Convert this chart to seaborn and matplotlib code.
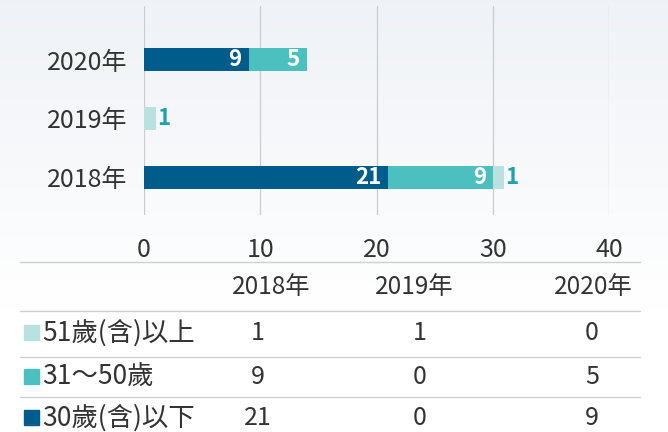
import numpy as np
import pandas as pd
import seaborn as sns
import matplotlib.pyplot as plt

years = ['2018年', '2019年', '2020年']
young = [21, 0, 9]      # 30歲(含)以下
middle = [9, 0, 5]      # 31～50歲
senior = [1, 1, 0]      # 51歲(含)以上
series_names = ['51歲(含)以上', '31～50歲', '30歲(含)以下']
x_ticks = [0, 10, 20, 30, 40]

c_young = '#005c8a'
c_middle = '#4cbfbf'
c_senior = '#b8e1e0'
c_text = '#333333'

sns.set_theme(style='white')
plt.rcParams['font.family'] = ['Noto Sans CJK TC', 'DejaVu Sans']

df = pd.DataFrame({'year': years, 'young': young, 'middle': middle, 'senior': senior})
df['c1'] = df['young']
df['c2'] = df['young'] + df['middle']
df['c3'] = df['c2'] + df['senior']
order = ['2020年', '2019年', '2018年']

W, H = 668, 432
fig = plt.figure(figsize=(W / 100, H / 100), dpi=100)

# soft background gradient
bg = fig.add_axes([0, 0, 1, 1], zorder=0)
grad = np.clip(np.linspace(0, 1, 256) * 1.4, 0, 1)
top = np.array([0.937, 0.949, 0.965])
bot = np.array([1.0, 1.0, 1.0])
img = (top[None, :] + (bot - top)[None, :] * grad[:, None])[:, None, :]
bg.imshow(img, aspect='auto', extent=[0, 1, 0, 1])
bg.set_axis_off()

ax = fig.add_axes([144 / W, 1 - 215 / H, (609 - 144) / W, (215 - 6) / H], zorder=1)
ax.patch.set_alpha(0)
for col, color in [('c3', c_senior), ('c2', c_middle), ('c1', c_young)]:
    sns.barplot(data=df, x=col, y='year', order=order, color=color, width=0.39,
                saturation=1, linewidth=0, ax=ax, zorder=3)

for i, yr in enumerate(order):
    r = df[df['year'] == yr].iloc[0]
    if r['young'] > 0:
        ax.text(r['c1'] - 0.6, i, str(r['young']), color='white', ha='right', va='center',
                fontsize=16, fontweight='bold', zorder=5)
    if r['middle'] > 0:
        ax.text(r['c2'] - 0.6, i, str(r['middle']), color='white', ha='right', va='center',
                fontsize=16, fontweight='bold', zorder=5)
    if r['senior'] > 0:
        ax.text(r['c3'] + 0.1, i, str(r['senior']), color='#1aa3ab', ha='left', va='center',
                fontsize=16, fontweight='bold', zorder=5)

ax.set_xlim(0, 40)
ax.set_ylim(2.636, -0.907)
ax.set_xticks(x_ticks)
ax.grid(axis='x', color='#cccccc', linewidth=0.9, zorder=0)
ax.set_axisbelow(True)
for s in ax.spines.values():
    s.set_visible(False)
ax.tick_params(axis='both', length=0, labelsize=18, colors=c_text)
ax.tick_params(axis='x', pad=16)
ax.tick_params(axis='y', pad=12)
ax.set_xlabel('')
ax.set_ylabel('')

# data table below
tb = fig.add_axes([0, 0, 1, 1], zorder=2)
tb.set_xlim(0, W)
tb.set_ylim(H, 0)
tb.set_axis_off()
for yl in [262, 311, 357, 397]:
    tb.plot([20, 640], [yl, yl], color='#cfcfcf', linewidth=1)

head_x = [271, 414, 593]
val_x = [258, 420, 592]
for hx, yr in zip(head_x, years):
    tb.text(hx, 287, yr, ha='center', va='center', fontsize=17.5, color=c_text)

rows = [(series_names[0], senior, c_senior, 333),
        (series_names[1], middle, c_middle, 377),
        (series_names[2], young, c_young, 418)]
for name, vals, color, yc in rows:
    tb.add_patch(plt.Rectangle((24, yc - 8), 15, 15, color=color))
    tb.text(42, yc, name, ha='left', va='center', fontsize=19, color=c_text)
    for vx, v in zip(val_x, vals):
        tb.text(vx, yc, str(v), ha='center', va='center', fontsize=18, color=c_text)

fig.savefig('out.png', dpi=100)
